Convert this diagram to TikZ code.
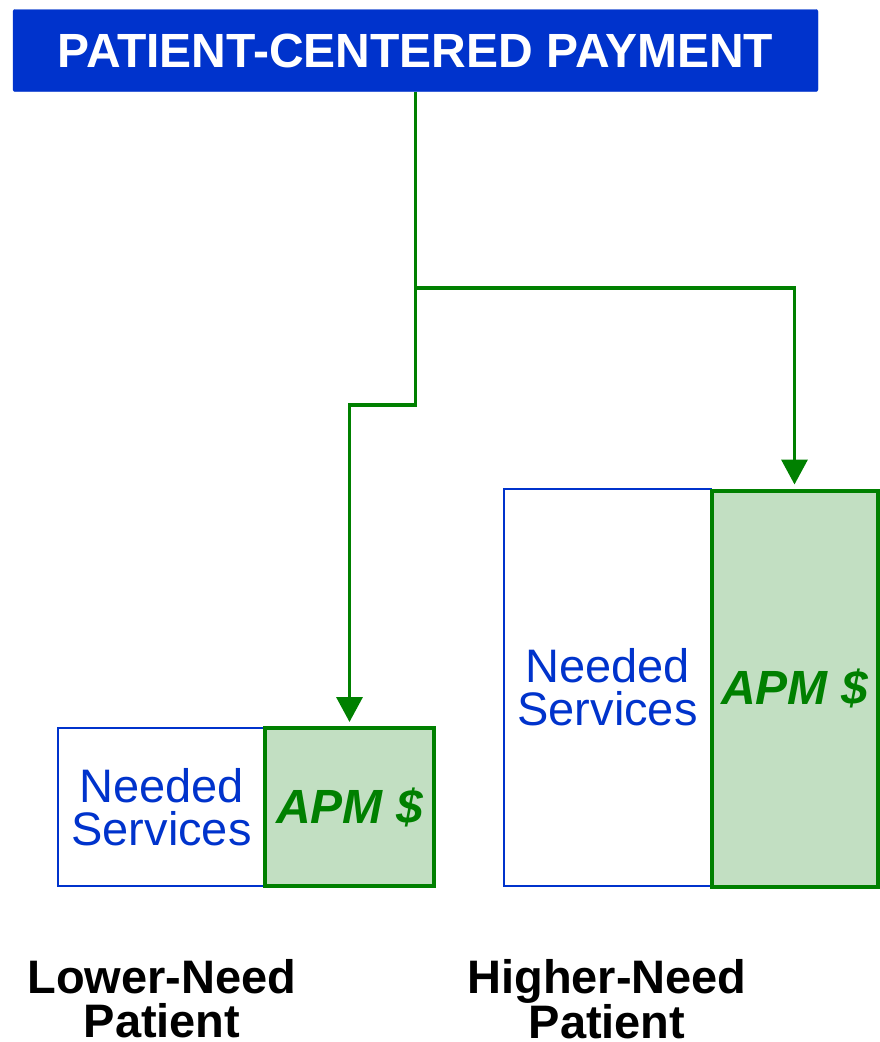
\documentclass[tikz,border=0pt]{standalone}
\usepackage{fontspec}
\setmainfont{Liberation Sans}
\usetikzlibrary{arrows.meta}
\definecolor{hdrblue}{RGB}{0,51,204}
\definecolor{txtblue}{RGB}{0,51,204}
\definecolor{apmgreen}{RGB}{0,128,0}
\definecolor{apmfill}{RGB}{194,223,194}
\tikzset{
  hdr/.style={fill=hdrblue, draw=hdrblue, rounded corners=2pt, inner sep=0pt,
    minimum width=805pt, minimum height=82pt, text=white,
    font=\fontsize{48}{50}\selectfont\bfseries},
  needbox/.style={draw=txtblue, line width=1.5pt, fill=white, inner sep=0pt,
    text=txtblue, align=center, font=\fontsize{47}{43}\selectfont},
  apmbox/.style={draw=apmgreen, line width=4pt, fill=apmfill, inner sep=0pt,
    text=apmgreen, font=\fontsize{48}{50}\selectfont\bfseries\itshape},
  lbl/.style={align=center, text=black, inner sep=0pt,
    font=\fontsize{47}{44}\selectfont\bfseries},
  conn/.style={draw=apmgreen, line width=3.5pt},
  arr/.style={conn, -{Triangle[width=26pt,length=25pt]}, shorten >=4pt},
}
\begin{document}
\begin{tikzpicture}[x=1pt,y=-1pt]
\useasboundingbox (0,0) rectangle (879,1042);
\node[hdr] (hdr) at (415.5,50.5) {PATIENT-CENTERED PAYMENT};

\node[needbox, minimum width=207pt, minimum height=158pt] (ns1) at (161.5,807) {Needed\\Services};
\node[needbox, minimum width=207pt, minimum height=397pt] (ns2) at (607.5,687.5) {Needed\\Services};
\node[apmbox, minimum width=169pt, minimum height=158pt] (apm1) at (349.5,807) {APM \$};
\node[apmbox, minimum width=166pt, minimum height=396pt] (apm2) at (794.5,688.5) {APM \$};

\node[lbl] (lab1) at (162,999) {Lower-Need\\Patient};
\node[lbl] (lab2) at (607,999) {Higher-Need\\Patient};

\coordinate (junc) at (415.5,288);
\coordinate (step) at (415.5,405);
\draw[conn] (hdr.south) -- (junc);
\draw[arr] (junc) -- (step) -| (apm1.north);
\draw[arr] (junc) -| (apm2.north);
\end{tikzpicture}
\end{document}
